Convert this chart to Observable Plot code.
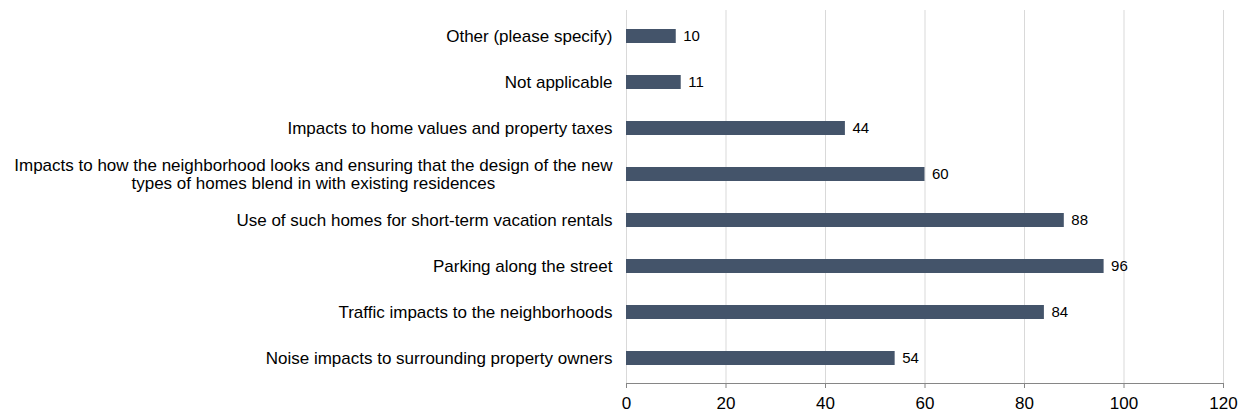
<!DOCTYPE html>
<html><head><meta charset="utf-8">
<script src="https://cdn.jsdelivr.net/npm/d3@7"></script>
<script src="https://cdn.jsdelivr.net/npm/@observablehq/plot@0.6"></script>
<style>body{margin:0;background:#fff}</style>
</head><body><div id="chart"></div>
<script>
const categories = [
  "Other (please specify)",
  "Not applicable",
  "Impacts to home values and property taxes",
  "Impacts to how the neighborhood looks and ensuring that the design of the new\ntypes of homes blend in with existing residences",
  "Use of such homes for short-term vacation rentals",
  "Parking along the street",
  "Traffic impacts to the neighborhoods",
  "Noise impacts to surrounding property owners"
];
const values = [10, 11, 44, 60, 88, 96, 84, 54];
const xTicks = [0, 20, 40, 60, 80, 100, 120];

const data = categories.map((c, i) => ({category: c, value: values[i]}));

const chart = Plot.plot({
  width: 1244, height: 416,
  marginLeft: 626, marginRight: 21, marginTop: 10, marginBottom: 33,
  style: {fontFamily: "'Liberation Sans', Arial, sans-serif", fontSize: "17px", color: "#000", background: "#fff"},
  x: {domain: [0, 120], label: null},
  y: {domain: categories, paddingInner: 0.7, paddingOuter: 0.35, label: null},
  marks: [
    Plot.gridX(xTicks, {stroke: "#d9d9d9", strokeOpacity: 1}),
    Plot.barX(data, {x: "value", y: "category", fill: "#44546A"}),
    Plot.text(data, {x: "value", y: "category", text: d => String(d.value), textAnchor: "start", dx: 7, fill: "#000", fontSize: 15}),
    Plot.frame({anchor: "bottom", stroke: "#868686"}),
    Plot.axisX(xTicks, {tickSize: 5, tickPadding: 8, stroke: "#868686", fill: "#000", fontSize: 17}),
    Plot.axisY({tickSize: 0, tickPadding: 14, fill: "#000", lineHeight: 1.06, fontSize: 17})
  ]
});
document.getElementById("chart").appendChild(chart);

// center the lines of multi-line labels relative to each other (right-aligned block)
chart.querySelectorAll("text").forEach(t => {
  const spans = t.querySelectorAll("tspan");
  if (spans.length > 1) {
    const widths = Array.from(spans, s => s.getComputedTextLength());
    const w = Math.max(...widths);
    t.setAttribute("text-anchor", "middle");
    spans.forEach(s => s.setAttribute("x", -w / 2));
  }
});
</script>
</body></html>
